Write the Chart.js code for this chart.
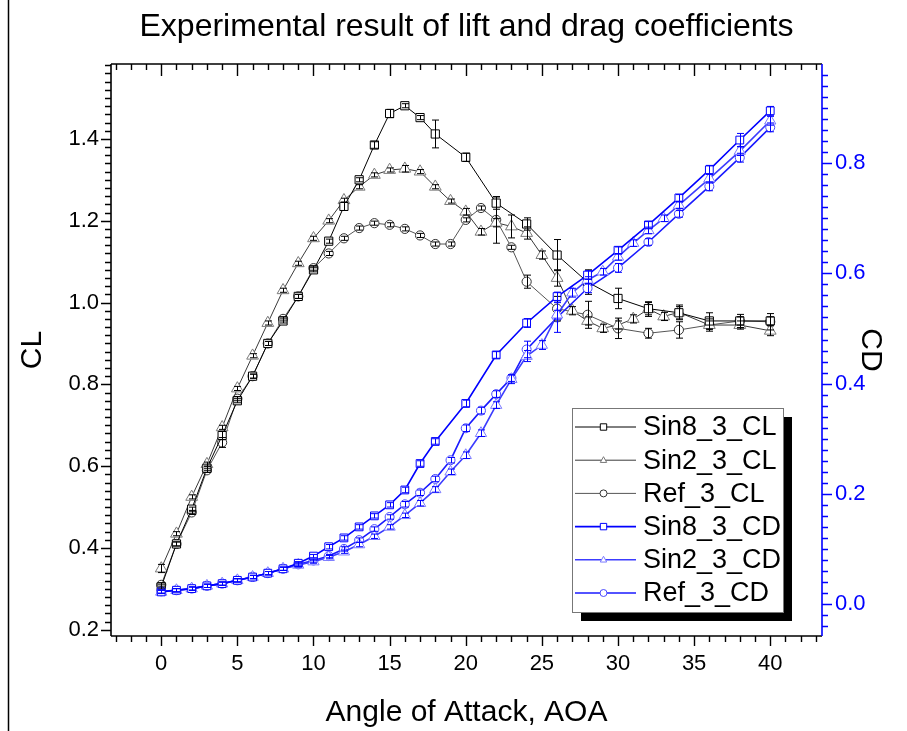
<!DOCTYPE html>
<html>
<head>
<meta charset="utf-8">
<script src="https://cdn.jsdelivr.net/npm/chart.js@4.4.1/dist/chart.umd.min.js"></script>
<style>
  html, body { margin: 0; padding: 0; background: #fff; }
  #wrap { width: 907px; height: 731px; position: relative; }
</style>
</head>
<body>
<div id="wrap"><canvas id="chart"></canvas></div>
<script>
// Data
const sin8Aoa = [0,1,2,3,4,5,6,7,8,9,10,11,12,13,14,15,16,17,18,20,22,24,26,28,30,32,34,36,38,40];
const sin8Cl = [0.305,0.41,0.495,0.595,0.675,0.76,0.82,0.90,0.955,1.015,1.08,1.15,1.235,1.30,1.385,1.462,1.481,1.452,1.412,1.355,1.243,1.192,1.116,1.05,1.01,0.985,0.975,0.955,0.955,0.955];
const sin8ClErr = [0.005,0.005,0.005,0.005,0.01,0.005,0.005,0.005,0.005,0.005,0.005,0.005,0.01,0.005,0.008,0.01,0.005,0.005,0.034,0.01,0.015,0.015,0.038,0.03,0.025,0.015,0.015,0.02,0.016,0.01];
const sin8Cd = [0.022,0.025,0.028,0.033,0.037,0.043,0.049,0.056,0.064,0.074,0.087,0.104,0.120,0.140,0.160,0.180,0.207,0.255,0.295,0.364,0.452,0.510,0.558,0.597,0.642,0.688,0.737,0.788,0.842,0.895];
const sin8CdErr = [0.003,0.003,0.003,0.003,0.003,0.003,0.003,0.003,0.003,0.003,0.003,0.004,0.004,0.004,0.004,0.004,0.005,0.005,0.005,0.006,0.006,0.008,0.008,0.008,0.006,0.006,0.006,0.008,0.012,0.008];

const sin2Aoa = [0,1,2,3,4,5,6,7,8,9,10,11,12,13,14,15,16,17,18,19,20,21,22,23,24,25,26,27,28,29,30,31,32,33,34,36,38,40];
const sin2Cl = [0.35,0.435,0.525,0.605,0.695,0.79,0.87,0.95,1.03,1.096,1.157,1.20,1.25,1.283,1.312,1.324,1.327,1.32,1.283,1.248,1.222,1.173,1.195,1.186,1.17,1.116,1.06,0.98,0.955,0.937,0.945,0.96,0.984,0.966,0.976,0.945,0.945,0.931];
const sin2ClErr = [0.01,0.005,0.005,0.005,0.005,0.005,0.005,0.005,0.005,0.005,0.005,0.005,0.005,0.005,0.005,0.005,0.008,0.005,0.005,0.005,0.008,0.008,0.01,0.028,0.015,0.01,0.02,0.01,0.01,0.01,0.01,0.01,0.018,0.01,0.018,0.01,0.01,0.012];
const sin2Cd = [0.022,0.025,0.028,0.033,0.037,0.043,0.049,0.056,0.064,0.071,0.077,0.085,0.095,0.108,0.123,0.140,0.161,0.183,0.208,0.240,0.270,0.310,0.361,0.408,0.450,0.470,0.525,0.565,0.588,0.603,0.630,0.655,0.678,0.700,0.724,0.772,0.822,0.877];
const sin2CdErr = [0.003,0.003,0.003,0.003,0.003,0.003,0.003,0.003,0.003,0.003,0.003,0.003,0.003,0.004,0.004,0.004,0.004,0.005,0.005,0.005,0.006,0.006,0.006,0.008,0.01,0.008,0.008,0.008,0.006,0.006,0.006,0.006,0.006,0.006,0.006,0.008,0.008,0.008];

const refAoa = [0,1,2,3,4,5,6,7,8,9,10,11,12,13,14,15,16,17,18,19,20,21,22,23,24,26,28,30,32,34,36,38,40];
const refCl = [0.31,0.41,0.487,0.59,0.658,0.765,0.82,0.90,0.96,1.015,1.084,1.12,1.157,1.182,1.194,1.19,1.18,1.164,1.143,1.143,1.202,1.231,1.202,1.135,1.051,0.985,0.97,0.937,0.925,0.933,0.945,0.955,0.953];
const refClErr = [0.005,0.005,0.005,0.005,0.012,0.005,0.005,0.005,0.005,0.005,0.005,0.005,0.005,0.005,0.005,0.005,0.005,0.005,0.005,0.005,0.005,0.005,0.057,0.005,0.016,0.03,0.033,0.025,0.012,0.02,0.015,0.01,0.02];
const refCd = [0.023,0.025,0.028,0.033,0.037,0.043,0.049,0.056,0.064,0.072,0.079,0.087,0.100,0.116,0.136,0.158,0.181,0.202,0.227,0.261,0.319,0.351,0.381,0.410,0.462,0.520,0.573,0.610,0.657,0.708,0.758,0.810,0.865];
const refCdErr = [0.003,0.003,0.003,0.003,0.003,0.003,0.003,0.003,0.003,0.003,0.003,0.003,0.004,0.004,0.004,0.004,0.005,0.005,0.005,0.005,0.006,0.006,0.006,0.006,0.015,0.027,0.008,0.008,0.006,0.006,0.008,0.008,0.008];

const seriesNames = ['Sin8_3_CL', 'Sin2_3_CL', 'Ref_3_CL', 'Sin8_3_CD', 'Sin2_3_CD', 'Ref_3_CD'];
const clTicks = [0.2, 0.4, 0.6, 0.8, 1.0, 1.2, 1.4];
const cdTicks = [0.0, 0.2, 0.4, 0.6, 0.8];
const aoaTicks = [0, 5, 10, 15, 20, 25, 30, 35, 40];

const FONT = "'Liberation Sans', Arial, sans-serif";
const BLUE = '#0000ff';

function pts(xs, ys, es) {
    return xs.map((x, i) => ({ x: x, y: ys[i], err: es[i] }));
}

function makeSet(label, xs, ys, es, axis, line, marker, style, radius, width, order) {
    return {
        label: label,
        data: pts(xs, ys, es),
        yAxisID: axis,
        borderColor: line,
        borderWidth: width,
        pointStyle: style,
        pointRadius: radius,
        pointBorderColor: marker,
        pointBackgroundColor: '#ffffff',
        pointBorderWidth: 1,
        tension: 0,
        order: order,
        errColor: axis === 'y' ? '#000000' : BLUE,
    };
}

const datasets = [
    makeSet(seriesNames[0], sin8Aoa, sin8Cl, sin8ClErr, 'y', '#000000', '#000000', 'rect', 5.8, 1, 1),
    makeSet(seriesNames[1], sin2Aoa, sin2Cl, sin2ClErr, 'y', '#3a3a3a', '#7a7a7a', 'triangle', 6.8, 1, 1),
    makeSet(seriesNames[2], refAoa, refCl, refClErr, 'y', '#555555', '#333333', 'circle', 4.6, 1, 1),
    makeSet(seriesNames[3], sin8Aoa, sin8Cd, sin8CdErr, 'y1', BLUE, BLUE, 'rect', 5.5, 1.6, 0),
    makeSet(seriesNames[4], sin2Aoa, sin2Cd, sin2CdErr, 'y1', '#3c3cff', '#7a7aff', 'triangle', 6.5, 1.6, 0),
    makeSet(seriesNames[5], refAoa, refCd, refCdErr, 'y1', '#1a1aff', '#4a4aff', 'circle', 4.5, 1.6, 0),
];

// Error bars
const errorBars = {
    id: 'errorBars',
    afterDatasetsDraw(chart) {
        const ctx = chart.ctx;
        ctx.save();
        chart.data.datasets.forEach((ds, di) => {
            const ys = chart.scales[ds.yAxisID];
            const xs = chart.scales.x;
            ctx.strokeStyle = ds.errColor;
            ctx.lineWidth = 1;
            ds.data.forEach(p => {
                if (!p.err) return;
                const px = Math.round(xs.getPixelForValue(p.x)) + 0.5;
                const y0 = ys.getPixelForValue(p.y - p.err);
                const y1 = ys.getPixelForValue(p.y + p.err);
                ctx.beginPath();
                ctx.moveTo(px, y0); ctx.lineTo(px, y1);
                ctx.moveTo(px - 3.5, y0); ctx.lineTo(px + 3.5, y0);
                ctx.moveTo(px - 3.5, y1); ctx.lineTo(px + 3.5, y1);
                ctx.stroke();
            });
        });
        ctx.restore();
    }
};

function marker(ctx, style, x, y, r) {
    ctx.beginPath();
    if (style === 'rect') {
        ctx.rect(x - r, y - r, 2 * r, 2 * r);
    } else if (style === 'triangle') {
        ctx.moveTo(x, y - r * 1.1);
        ctx.lineTo(x + r, y + r * 0.7);
        ctx.lineTo(x - r, y + r * 0.7);
        ctx.closePath();
    } else {
        ctx.arc(x, y, r, 0, Math.PI * 2);
    }
    ctx.fill();
    ctx.stroke();
}

// Frame, minor ticks, legend
const decor = {
    id: 'decor',
    afterDraw(chart) {
        const { ctx, chartArea: a, scales } = chart;
        const x = scales.x, y = scales.y, y1 = scales.y1;
        ctx.save();

        // outer page edge
        ctx.strokeStyle = '#000';
        ctx.lineWidth = 1.5;
        ctx.beginPath();
        ctx.moveTo(8.5, 0); ctx.lineTo(8.5, 731);
        ctx.stroke();

        const seg = (x0, y0, x1, y2) => { ctx.moveTo(x0, y0); ctx.lineTo(x1, y2); };

        // black frame: left, top, bottom
        ctx.strokeStyle = '#000';
        ctx.lineWidth = 1.6;
        ctx.beginPath();
        seg(a.left, a.bottom, a.left, a.top);
        seg(a.left, a.top, a.right, a.top);
        seg(a.left, a.bottom, a.right, a.bottom);
        ctx.stroke();

        ctx.lineWidth = 1.4;
        ctx.beginPath();
        for (let v = -3; v <= 43; v++) {
            const px = Math.round(x.getPixelForValue(v)) + 0.5;
            const major = v % 5 === 0;
            seg(px, a.bottom, px, a.bottom + (major ? 10 : 6));
            seg(px, a.top, px, a.top + (major ? 12 : 6));
        }
        for (let i = 10; i <= 79; i++) {
            const py = Math.round(y.getPixelForValue(i * 0.02)) + 0.5;
            const major = i % 10 === 0;
            seg(a.left - (major ? 10 : 6), py, a.left, py);
        }
        ctx.stroke();

        // blue right axis
        ctx.strokeStyle = BLUE;
        ctx.lineWidth = 1.6;
        ctx.beginPath();
        seg(a.right, a.top, a.right, a.bottom);
        ctx.stroke();
        ctx.lineWidth = 1.4;
        ctx.beginPath();
        for (let i = -2; i <= 48; i++) {
            const py = Math.round(y1.getPixelForValue(i * 0.02)) + 0.5;
            const major = i % 10 === 0;
            seg(a.right, py, a.right + (major ? 10 : 6), py);
        }
        ctx.stroke();

        // legend with drop shadow
        const lx = 572, ly = 408, lw = 211, lh = 204, sh = 9;
        ctx.fillStyle = '#000';
        ctx.fillRect(lx + sh, ly + sh, lw, lh);
        ctx.fillStyle = '#fff';
        ctx.fillRect(lx, ly, lw, lh);
        ctx.strokeStyle = '#777';
        ctx.lineWidth = 1;
        ctx.strokeRect(lx + 0.5, ly + 0.5, lw, lh);

        ctx.font = '27px ' + FONT;
        ctx.textBaseline = 'middle';
        ctx.textAlign = 'left';
        chart.data.datasets.forEach((ds, i) => {
            const ry = ly + 19 + i * 33.2;
            ctx.strokeStyle = ds.borderColor;
            ctx.lineWidth = ds.borderWidth;
            ctx.beginPath();
            seg(lx + 3, ry, lx + 64, ry);
            ctx.stroke();
            ctx.strokeStyle = ds.pointBorderColor;
            ctx.fillStyle = '#fff';
            ctx.lineWidth = 1;
            marker(ctx, ds.pointStyle, lx + 31.5, ry, ds.pointStyle === 'circle' ? 3.5 : 3.2);
            ctx.fillStyle = '#000';
            ctx.fillText(ds.label, lx + 71, ry + 1);
        });
        ctx.restore();
    }
};

Chart.defaults.font.family = FONT;
Chart.defaults.color = '#000';

const chart_canvas = document.getElementById('chart');
let chart = new Chart(chart_canvas, {
    type: 'line',
    data: { datasets: datasets },
    plugins: [errorBars, decor],
    options: {
        animation: false,
        responsive: true,
        maintainAspectRatio: false,
        layout: { padding: 0 },
        plugins: {
            legend: { display: false },
            tooltip: { enabled: false },
            title: {
                display: true,
                text: 'Experimental result of lift and drag coefficients',
                fullSize: false,
                color: '#000',
                font: { size: 32, weight: 'normal', lineHeight: 1.2 },
                padding: { top: 8, bottom: 17.6 },
            },
        },
        scales: {
            x: {
                type: 'linear',
                min: -3.3,
                max: 43.4,
                afterFit: s => { s.height = 95; },
                afterBuildTicks: s => { s.ticks = aoaTicks.map(v => ({ value: v })); },
                grid: { display: false, drawTicks: false },
                border: { display: false },
                ticks: { font: { size: 22 }, padding: 15, color: '#000', callback: v => String(v) },
                title: {
                    display: true,
                    text: 'Angle of Attack, AOA',
                    font: { size: 30 },
                    padding: { top: 0, bottom: 0 },
                    color: '#000',
                },
            },
            y: {
                position: 'left',
                min: 0.185,
                max: 1.583,
                afterFit: s => { s.width = 111; },
                afterBuildTicks: s => { s.ticks = clTicks.map(v => ({ value: v })); },
                grid: { display: false, drawTicks: false },
                border: { display: false },
                ticks: { font: { size: 22 }, padding: 12, color: '#000', callback: v => v.toFixed(1) },
                title: {
                    display: true,
                    text: 'CL',
                    font: { size: 30 },
                    padding: { top: 15, bottom: 0 },
                    color: '#000',
                },
            },
            y1: {
                position: 'right',
                min: -0.058,
                max: 0.98,
                afterFit: s => { s.width = 85; },
                afterBuildTicks: s => { s.ticks = cdTicks.map(v => ({ value: v })); },
                grid: { display: false, drawTicks: false },
                border: { display: false },
                ticks: { font: { size: 22 }, padding: 13, color: BLUE, callback: v => Math.abs(v).toFixed(1) },
                title: {
                    display: true,
                    text: 'CD',
                    font: { size: 30 },
                    padding: { top: 19, bottom: 0 },
                    color: '#000',
                },
            },
        },
    },
});
</script>
</body>
</html>
